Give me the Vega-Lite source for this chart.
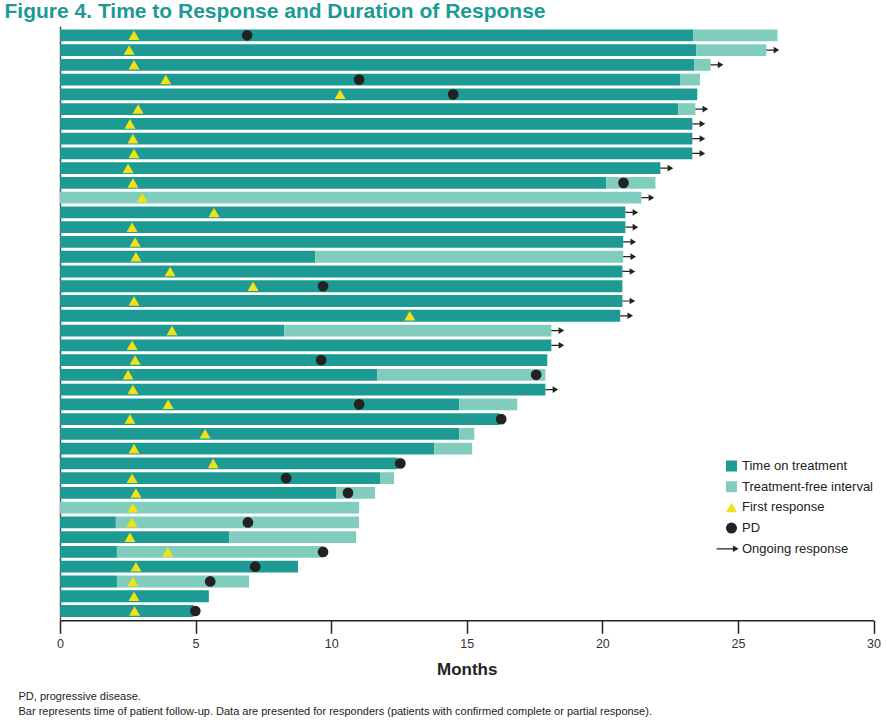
{
  "$schema": "https://vega.github.io/schema/vega-lite/v6.json",
  "background": "white",
  "padding": {"left": 4, "top": 1, "right": 4, "bottom": 2},
  "title": {
    "text": "Figure 4. Time to Response and Duration of Response",
    "anchor": "start",
    "dx": -14,
    "offset": 4,
    "font": "Liberation Sans",
    "fontSize": 21,
    "fontWeight": "bold",
    "color": "#1b9a97"
  },
  "config": {
    "font": "Liberation Sans",
    "view": {"stroke": null},
    "axis": {"grid": false},
    "legend": {
      "orient": "none",
      "legendX": 665,
      "legendY": 433.5,
      "labelFont": "Liberation Sans",
      "labelFontSize": 13,
      "labelColor": "#222222",
      "labelOffset": 4,
      "labelLimit": 300,
      "symbolSize": 121,
      "symbolStrokeWidth": 0,
      "symbolOpacity": 1,
      "rowPadding": 6.7
    }
  },
  "vconcat": [
    {
      "width": 813.5,
      "height": 594.3,
      "title": {
        "text": [
          "PD, progressive disease.",
          "Bar represents time of patient follow-up. Data are presented for responders (patients with confirmed complete or partial response)."
        ],
        "orient": "bottom",
        "anchor": "start",
        "dx": -38,
        "offset": 13.5,
        "font": "Liberation Sans",
        "fontSize": 11,
        "fontWeight": "normal",
        "color": "#222222",
        "lineHeight": 15
      },
      "data": {
        "values": [
          {"id": 1, "treat": 23.36, "total": 26.46, "resp": 2.73, "pd": 6.9, "ongoing": false},
          {"id": 2, "treat": 23.47, "total": 26.05, "resp": 2.55, "pd": null, "ongoing": true},
          {"id": 3, "treat": 23.4, "total": 23.99, "resp": 2.73, "pd": null, "ongoing": true},
          {"id": 4, "treat": 22.88, "total": 23.6, "resp": 3.9, "pd": 11.03, "ongoing": false},
          {"id": 5, "treat": 23.5, "total": 23.5, "resp": 10.33, "pd": 14.5, "ongoing": false},
          {"id": 6, "treat": 22.8, "total": 23.43, "resp": 2.88, "pd": null, "ongoing": true},
          {"id": 7, "treat": 23.32, "total": 23.32, "resp": 2.58, "pd": null, "ongoing": true},
          {"id": 8, "treat": 23.32, "total": 23.32, "resp": 2.69, "pd": null, "ongoing": true},
          {"id": 9, "treat": 23.32, "total": 23.32, "resp": 2.73, "pd": null, "ongoing": true},
          {"id": 10, "treat": 22.14, "total": 22.14, "resp": 2.51, "pd": null, "ongoing": true},
          {"id": 11, "treat": 20.15, "total": 21.96, "resp": 2.69, "pd": 20.78, "ongoing": false},
          {"id": 12, "treat": 0, "total": 21.44, "resp": 3.03, "pd": null, "ongoing": true},
          {"id": 13, "treat": 20.85, "total": 20.85, "resp": 5.68, "pd": null, "ongoing": true},
          {"id": 14, "treat": 20.85, "total": 20.85, "resp": 2.66, "pd": null, "ongoing": true},
          {"id": 15, "treat": 20.77, "total": 20.77, "resp": 2.77, "pd": null, "ongoing": true},
          {"id": 16, "treat": 9.41, "total": 20.77, "resp": 2.8, "pd": null, "ongoing": true},
          {"id": 17, "treat": 20.74, "total": 20.74, "resp": 4.06, "pd": null, "ongoing": true},
          {"id": 18, "treat": 20.74, "total": 20.74, "resp": 7.12, "pd": 9.7, "ongoing": false},
          {"id": 19, "treat": 20.74, "total": 20.74, "resp": 2.73, "pd": null, "ongoing": true},
          {"id": 20, "treat": 20.66, "total": 20.66, "resp": 12.9, "pd": null, "ongoing": true},
          {"id": 21, "treat": 8.27, "total": 18.12, "resp": 4.13, "pd": null, "ongoing": true},
          {"id": 22, "treat": 18.12, "total": 18.12, "resp": 2.66, "pd": null, "ongoing": true},
          {"id": 23, "treat": 17.97, "total": 17.97, "resp": 2.77, "pd": 9.63, "ongoing": false},
          {"id": 24, "treat": 11.7, "total": 17.9, "resp": 2.51, "pd": 17.56, "ongoing": false},
          {"id": 25, "treat": 17.9, "total": 17.9, "resp": 2.69, "pd": null, "ongoing": true},
          {"id": 26, "treat": 14.72, "total": 16.86, "resp": 3.99, "pd": 11.03, "ongoing": false},
          {"id": 27, "treat": 16.2, "total": 16.2, "resp": 2.58, "pd": 16.27, "ongoing": false},
          {"id": 28, "treat": 14.72, "total": 15.28, "resp": 5.35, "pd": null, "ongoing": false},
          {"id": 29, "treat": 13.8, "total": 15.2, "resp": 2.73, "pd": null, "ongoing": false},
          {"id": 30, "treat": 12.45, "total": 12.45, "resp": 5.65, "pd": 12.55, "ongoing": false},
          {"id": 31, "treat": 11.8, "total": 12.32, "resp": 2.66, "pd": 8.34, "ongoing": false},
          {"id": 32, "treat": 10.18, "total": 11.62, "resp": 2.8, "pd": 10.62, "ongoing": false},
          {"id": 33, "treat": 0, "total": 11.03, "resp": 2.69, "pd": null, "ongoing": false},
          {"id": 34, "treat": 2.06, "total": 11.03, "resp": 2.65, "pd": 6.93, "ongoing": false},
          {"id": 35, "treat": 6.24, "total": 10.92, "resp": 2.58, "pd": null, "ongoing": false},
          {"id": 36, "treat": 2.1, "total": 9.68, "resp": 3.97, "pd": 9.7, "ongoing": false},
          {"id": 37, "treat": 8.78, "total": 8.78, "resp": 2.8, "pd": 7.2, "ongoing": false},
          {"id": 38, "treat": 2.1, "total": 6.97, "resp": 2.69, "pd": 5.54, "ongoing": false},
          {"id": 39, "treat": 5.49, "total": 5.49, "resp": 2.73, "pd": null, "ongoing": false},
          {"id": 40, "treat": 4.92, "total": 4.92, "resp": 2.75, "pd": 4.99, "ongoing": false}
        ]
      },
      "encoding": {
        "y": {
          "field": "id",
          "type": "ordinal",
          "scale": {"paddingInner": 0.2, "paddingOuter": 0.23},
          "axis": {
            "labels": false,
            "ticks": false,
            "title": null,
            "domainColor": "#555555",
            "domainWidth": 1.5
          }
        }
      },
      "layer": [
        {
          "transform": [{"filter": "datum.treat > 0"}],
          "mark": {"type": "bar", "cornerRadius": 0},
          "encoding": {
            "x": {
              "field": "treat",
              "type": "quantitative",
              "stack": null,
              "scale": {"domain": [0, 30], "nice": false, "zero": true},
              "axis": {
                "values": [0, 5, 10, 15, 20, 25, 30],
                "title": "Months",
                "titleFont": "Liberation Sans",
                "titleFontSize": 17,
                "titleFontWeight": "bold",
                "titleColor": "#222222",
                "titlePadding": 11.5,
                "labelFont": "Liberation Sans",
                "labelFontSize": 12.5,
                "labelColor": "#333333",
                "labelPadding": 4,
                "labelFlush": false,
                "tickSize": 13,
                "tickWidth": 1.5,
                "tickColor": "#222222",
                "domainColor": "#222222",
                "domainWidth": 1.5
              }
            },
            "x2": {"datum": 0},
            "color": {
              "datum": "Time on treatment",
              "type": "nominal",
              "scale": {
                "domain": ["Time on treatment", "Treatment-free interval", "First response", "PD", "Ongoing response"],
                "range": ["#1d9a93", "#80cdbe", "#f2e215", "#222222", "#222222"]
              },
              "legend": {"title": null}
            }
          }
        },
        {
          "transform": [{"filter": "datum.total > datum.treat"}],
          "mark": {"type": "bar"},
          "encoding": {
            "x": {"field": "treat", "type": "quantitative"},
            "x2": {"field": "total"},
            "color": {"datum": "Treatment-free interval", "type": "nominal", "legend": {"title": null}}
          }
        },
        {
          "transform": [{"filter": "datum.ongoing"}],
          "mark": {
            "type": "point",
            "filled": true,
            "opacity": 1,
            "color": "#222222",
            "size": 125,
            "shape": "M0,-0.11H1.3V-0.6L2.3,0L1.3,0.6V0.11H0Z"
          },
          "encoding": {
            "x": {"field": "total", "type": "quantitative"}
          }
        },
        {
          "mark": {"type": "point", "filled": true, "opacity": 1, "size": 121},
          "encoding": {
            "x": {"field": "resp", "type": "quantitative"},
            "color": {"datum": "First response", "type": "nominal", "legend": {"title": null}},
            "shape": {
              "datum": "First response",
              "type": "nominal",
              "scale": {
                "domain": ["Time on treatment", "Treatment-free interval", "First response", "PD", "Ongoing response"],
                "range": ["square", "square", "triangle-up", "circle", "M-2.7,-0.11H0.25V-0.6L1.3,0L0.25,0.6V0.11H-2.7Z"]
              },
              "legend": {"title": null}
            }
          }
        },
        {
          "transform": [{"filter": "datum.pd != null"}],
          "mark": {"type": "point", "filled": true, "opacity": 1, "size": 115},
          "encoding": {
            "x": {"field": "pd", "type": "quantitative"},
            "color": {"datum": "PD", "type": "nominal", "legend": {"title": null}},
            "shape": {"datum": "PD", "type": "nominal", "legend": {"title": null}}
          }
        }
      ]
    }
  ]
}
